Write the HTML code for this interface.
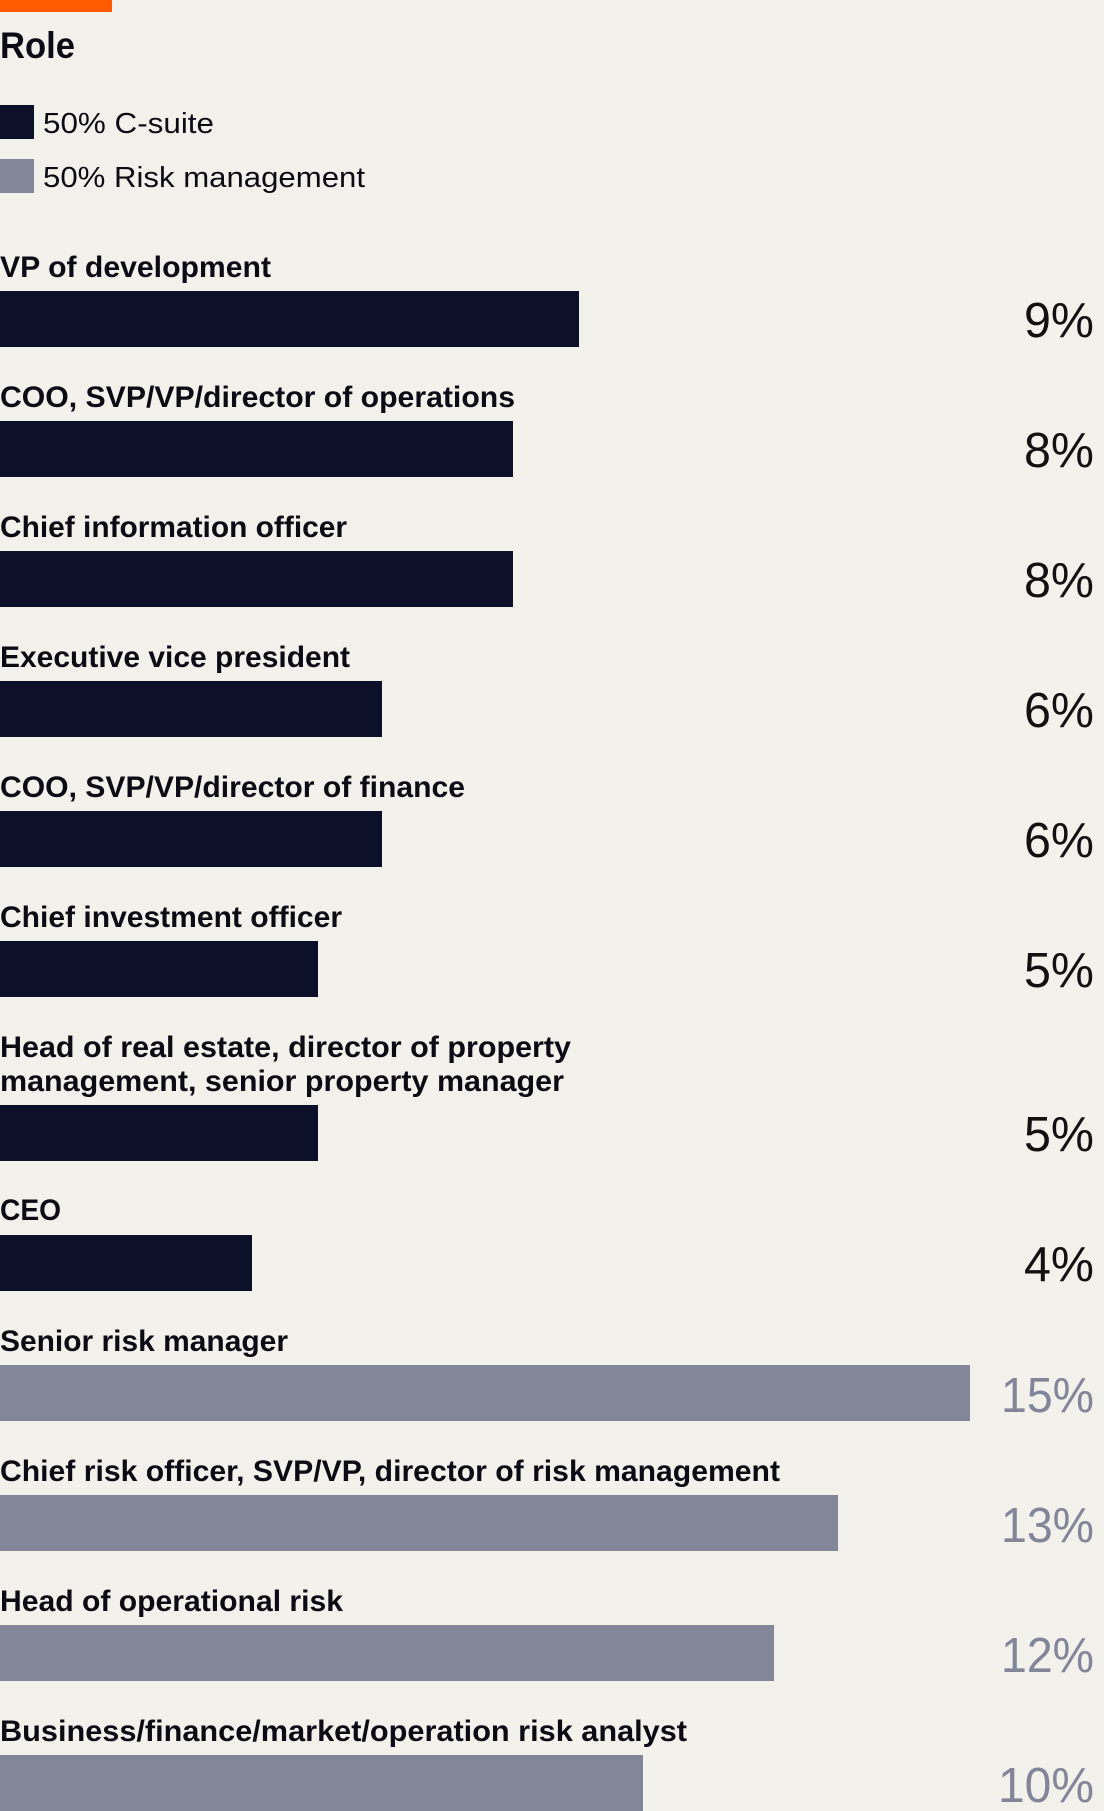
<!DOCTYPE html>
<html><head><meta charset="utf-8"><style>
html,body{margin:0;padding:0;background:#f3f1eb;}
svg{display:block}
text{font-family:"Liberation Sans",sans-serif;}
.l{font-weight:bold;font-size:30px;fill:#0b0b14}
.p{font-size:49px;text-anchor:end}
</style></head><body>
<svg width="1104" height="1811" viewBox="0 0 1104 1811">
<rect width="1104" height="1811" fill="#f3f1eb"/>
<rect x="0" y="0" width="112" height="12" fill="#ff5a00"/>
<text x="0" y="58" font-size="37" font-weight="bold" fill="#0b0b14" textLength="75" lengthAdjust="spacingAndGlyphs">Role</text>
<rect x="0" y="105" width="34" height="34" fill="#0d1029"/>
<text x="43" y="133" font-size="29" fill="#0b0b14" textLength="171" lengthAdjust="spacingAndGlyphs">50% C-suite</text>
<rect x="0" y="159" width="34" height="34" fill="#838598"/>
<text x="43" y="187" font-size="29" fill="#0b0b14" textLength="322" lengthAdjust="spacingAndGlyphs">50% Risk management</text>

<text class="l" x="0" y="277" textLength="271" lengthAdjust="spacingAndGlyphs">VP of development</text>
<rect x="0" y="291" width="579" height="56" fill="#0d1029"/>
<text class="p" x="1094" y="337" fill="#111" textLength="70" lengthAdjust="spacingAndGlyphs">9%</text>

<text class="l" x="0" y="407" textLength="515" lengthAdjust="spacingAndGlyphs">COO, SVP/VP/director of operations</text>
<rect x="0" y="421" width="513" height="56" fill="#0d1029"/>
<text class="p" x="1094" y="467" fill="#111" textLength="70" lengthAdjust="spacingAndGlyphs">8%</text>

<text class="l" x="0" y="537" textLength="347" lengthAdjust="spacingAndGlyphs">Chief information officer</text>
<rect x="0" y="551" width="513" height="56" fill="#0d1029"/>
<text class="p" x="1094" y="597" fill="#111" textLength="70" lengthAdjust="spacingAndGlyphs">8%</text>

<text class="l" x="0" y="667" textLength="350" lengthAdjust="spacingAndGlyphs">Executive vice president</text>
<rect x="0" y="681" width="382" height="56" fill="#0d1029"/>
<text class="p" x="1094" y="727" fill="#111" textLength="70" lengthAdjust="spacingAndGlyphs">6%</text>

<text class="l" x="0" y="797" textLength="465" lengthAdjust="spacingAndGlyphs">COO, SVP/VP/director of finance</text>
<rect x="0" y="811" width="382" height="56" fill="#0d1029"/>
<text class="p" x="1094" y="857" fill="#111" textLength="70" lengthAdjust="spacingAndGlyphs">6%</text>

<text class="l" x="0" y="927" textLength="342" lengthAdjust="spacingAndGlyphs">Chief investment officer</text>
<rect x="0" y="941" width="318" height="56" fill="#0d1029"/>
<text class="p" x="1094" y="987" fill="#111" textLength="70" lengthAdjust="spacingAndGlyphs">5%</text>

<text class="l" x="0" y="1057" textLength="571" lengthAdjust="spacingAndGlyphs">Head of real estate, director of property</text>
<text class="l" x="0" y="1091" textLength="564" lengthAdjust="spacingAndGlyphs">management, senior property manager</text>
<rect x="0" y="1105" width="318" height="56" fill="#0d1029"/>
<text class="p" x="1094" y="1151" fill="#111" textLength="70" lengthAdjust="spacingAndGlyphs">5%</text>

<text class="l" x="0" y="1220" textLength="61" lengthAdjust="spacingAndGlyphs">CEO</text>
<rect x="0" y="1235" width="252" height="56" fill="#0d1029"/>
<text class="p" x="1094" y="1281" fill="#111" textLength="70" lengthAdjust="spacingAndGlyphs">4%</text>

<text class="l" x="0" y="1351" textLength="288" lengthAdjust="spacingAndGlyphs">Senior risk manager</text>
<rect x="0" y="1365" width="970" height="56" fill="#838598"/>
<text class="p" x="1094" y="1412" fill="#838598" textLength="93" lengthAdjust="spacingAndGlyphs">15%</text>

<text class="l" x="0" y="1481" textLength="780" lengthAdjust="spacingAndGlyphs">Chief risk officer, SVP/VP, director of risk management</text>
<rect x="0" y="1495" width="838" height="56" fill="#838598"/>
<text class="p" x="1094" y="1542" fill="#838598" textLength="93" lengthAdjust="spacingAndGlyphs">13%</text>

<text class="l" x="0" y="1611" textLength="343" lengthAdjust="spacingAndGlyphs">Head of operational risk</text>
<rect x="0" y="1625" width="774" height="56" fill="#838598"/>
<text class="p" x="1094" y="1672" fill="#838598" textLength="93" lengthAdjust="spacingAndGlyphs">12%</text>

<text class="l" x="0" y="1741" textLength="687" lengthAdjust="spacingAndGlyphs">Business/finance/market/operation risk analyst</text>
<rect x="0" y="1755" width="643" height="56" fill="#838598"/>
<text class="p" x="1094" y="1802" fill="#838598" textLength="96" lengthAdjust="spacingAndGlyphs">10%</text>
</svg>
</body></html>
